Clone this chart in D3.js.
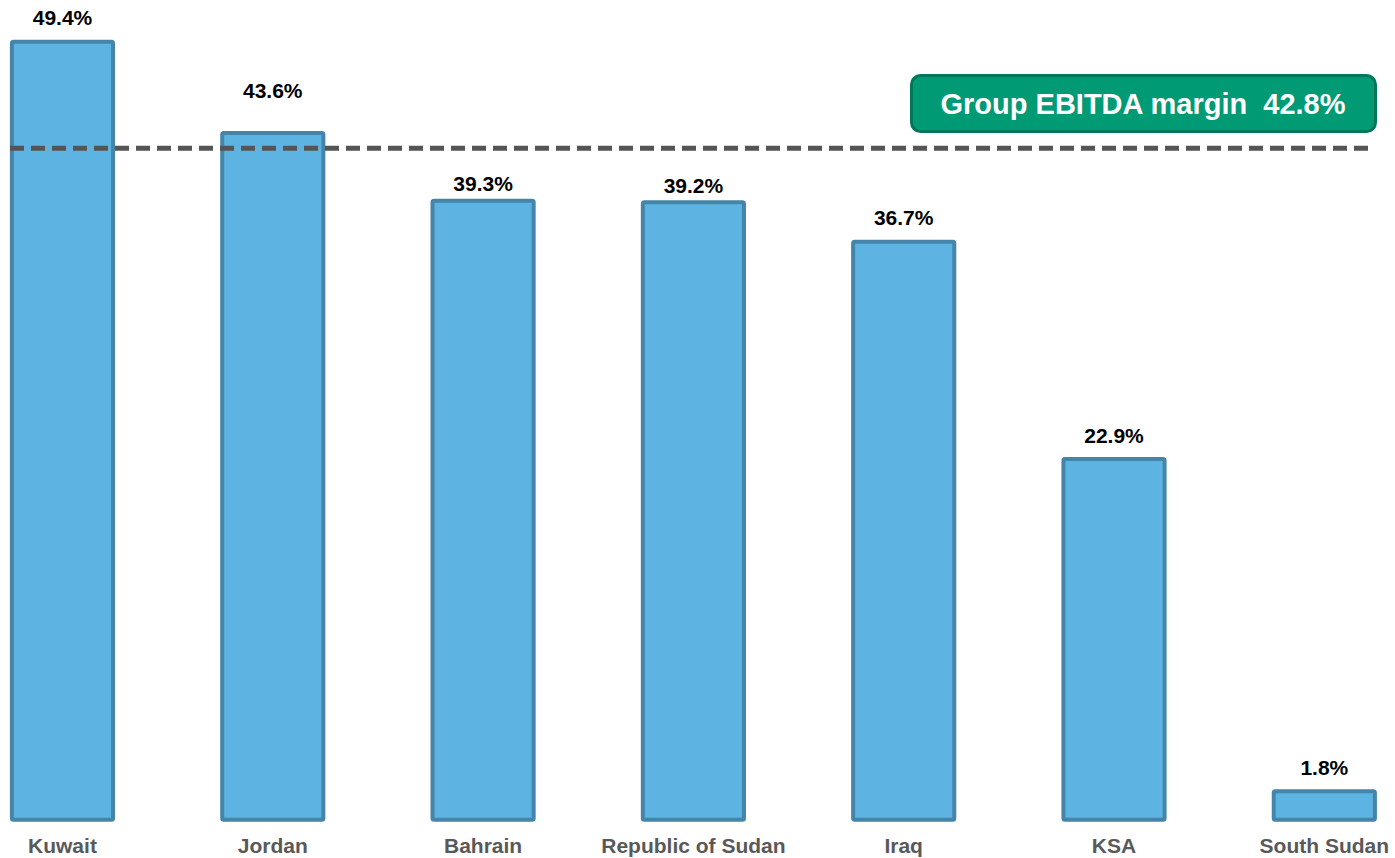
<!DOCTYPE html>
<html>
<head>
<meta charset="utf-8">
<script src="https://cdn.jsdelivr.net/npm/d3@7"></script>
<style>
  body { margin: 0; background: #fff; }
  svg { display: block; font-family: "Liberation Sans", Arial, sans-serif; }
</style>
</head>
<body>
<div class="diagram"></div>
<script>
const countries = ["Kuwait", "Jordan", "Bahrain", "Republic of Sudan", "Iraq", "KSA", "South Sudan"];
const margins = [49.4, 43.6, 39.3, 39.2, 36.7, 22.9, 1.8];
const groupMargin = 42.8;
const groupLabel = "Group EBITDA margin  42.8%";

const W = 1395, H = 858;
const baseY = 819.7;

// hand placed labels in the original slide
const labelGap = { "Jordan": 33, "Bahrain": 7.5, "Republic of Sudan": 7.5 };

const svg = d3.select(".diagram").append("svg")
  .attr("width", W).attr("height", H);

const x = d3.scaleBand()
  .domain(countries)
  .range([9.9, 1376.9])
  .paddingInner(0.5)
  .paddingOuter(0);

const y = d3.scaleLinear()
  .domain([0, 49.4])
  .range([baseY, 41.7]);

const bw = x.bandwidth() - 4;
const xc = d => x(d) + x.bandwidth() / 2;

// bars
svg.selectAll("rect.bar")
  .data(margins)
  .enter()
  .append("rect")
  .attr("class", "bar")
  .attr("x", (d, i) => xc(countries[i]) - bw / 2)
  .attr("y", d => y(d))
  .attr("width", bw)
  .attr("height", d => baseY - y(d))
  .attr("rx", 1.5)
  .attr("fill", "#5DB4E3")
  .attr("stroke", "#4485A9")
  .attr("stroke-width", 4);

// value labels
svg.selectAll("text.val")
  .data(margins)
  .enter()
  .append("text")
  .attr("class", "val")
  .attr("x", (d, i) => xc(countries[i]))
  .attr("y", (d, i) => y(d) - 2 - (labelGap[countries[i]] || 14.5))
  .attr("text-anchor", "middle")
  .attr("font-size", 21)
  .attr("font-weight", "bold")
  .attr("fill", "#000")
  .text(d => d.toFixed(1) + "%");

// category labels
svg.selectAll("text.cat")
  .data(countries)
  .enter()
  .append("text")
  .attr("class", "cat")
  .attr("x", d => xc(d))
  .attr("y", 853)
  .attr("text-anchor", "middle")
  .attr("font-size", 21)
  .attr("font-weight", "bold")
  .attr("fill", "#595959")
  .text(d => d);

// group average line
svg.append("line")
  .attr("x1", 10)
  .attr("x2", 1370)
  .attr("y1", y(groupMargin) + 2.5)
  .attr("y2", y(groupMargin) + 2.5)
  .attr("stroke", "#555")
  .attr("stroke-width", 5)
  .attr("stroke-dasharray", "14,7");

// label box
svg.append("rect")
  .attr("x", 911.5)
  .attr("y", 75.5)
  .attr("width", 464)
  .attr("height", 56)
  .attr("rx", 9)
  .attr("fill", "#009A74")
  .attr("stroke", "#00765A")
  .attr("stroke-width", 3);

svg.append("text")
  .attr("x", 1143)
  .attr("y", 113.5)
  .attr("text-anchor", "middle")
  .attr("font-size", 29)
  .attr("font-weight", "bold")
  .attr("fill", "#fff")
  .style("white-space", "pre")
  .text(groupLabel);
</script>
</body>
</html>
